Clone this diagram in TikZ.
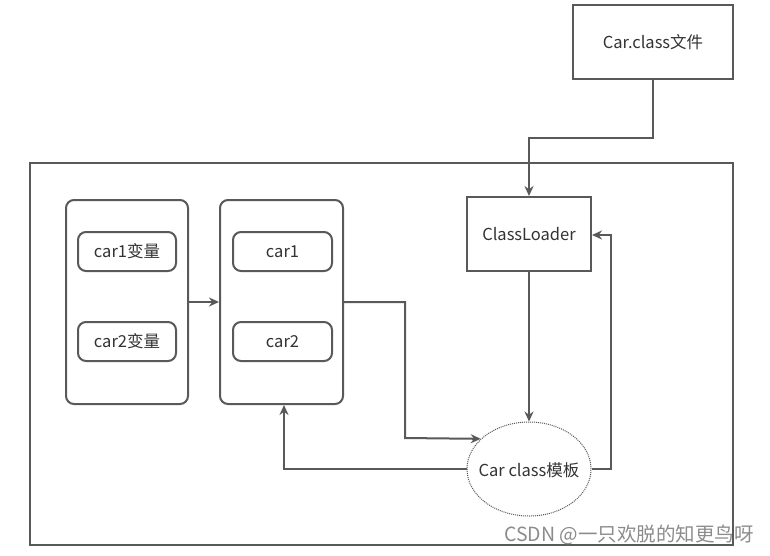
\documentclass[tikz,border=0pt]{standalone}
\usepackage{fontspec}
\setmainfont{Noto Sans CJK SC}
\usetikzlibrary{shapes.geometric,arrows.meta}
\definecolor{ln}{HTML}{595959}
\definecolor{tx}{HTML}{333333}
\tikzset{
  lbl/.style={font=\fontsize{16.5}{18}\selectfont,text=tx},
  box/.style={draw=ln,line width=2pt,fill=white,inner sep=0pt,lbl},
  rbox/.style={box,rounded corners=8pt},
  conn/.style={draw=ln,line width=2pt,-{Stealth[length=10pt,width=9pt]}},
}
\begin{document}
\begin{tikzpicture}[x=1pt,y=-1pt]
\useasboundingbox[fill=white] (0,0) rectangle (770,555);
% outer frame
\draw[ln,line width=2pt] (30,163) rectangle (733,545);
% Car.class file
\node[box,minimum width=160pt,minimum height=74pt] (file) at (653,42) {Car.class文件};
% left container
\node[rbox,minimum width=122pt,minimum height=204pt] (vars) at (127,302) {};
\node[rbox,minimum width=98pt,minimum height=39pt] (v1) at (127,251.5) {car1变量};
\node[rbox,minimum width=98pt,minimum height=39pt] (v2) at (127,341.5) {car2变量};
% middle container
\node[rbox,minimum width=123pt,minimum height=204pt] (objs) at (281.5,302) {};
\node[rbox,minimum width=99pt,minimum height=39pt] (o1) at (282.5,251.5) {car1};
\node[rbox,minimum width=99pt,minimum height=39pt] (o2) at (282.5,341.5) {car2};
% ClassLoader
\node[box,minimum width=124pt,minimum height=74pt] (cl) at (529,234) {ClassLoader};
% template ellipse
\node[ellipse,draw=ln,densely dotted,line width=1pt,fill=white,inner sep=0pt,
      minimum width=124pt,minimum height=94pt] (tpl) at (529,469) {};
\node[lbl,inner sep=0pt] (tplt) at (529,470) {Car class模板};
% connectors
\coordinate (f1) at (653,138);
\coordinate (f2) at (529,138);
\draw[conn] (file.south -| f1) -- (f1) -- (f2) -- (cl.north);
\draw[conn] (vars.east) -- (objs.west);
\coordinate (m1) at (405,302);
\coordinate (m2) at (405,438);
\draw[conn] (objs.east) -- (m1) -- (m2) -- (tpl.148);
\draw[conn] (cl.south) -- (tpl.north);
\coordinate (t1) at (284,469);
\draw[conn] (tpl.west) -- (t1) -- (objs.south -| t1);
\coordinate (r1) at (611,469);
\coordinate (r2) at (611,235);
\draw[conn] (tpl.east) -- (r1) -- (r2) -- (cl.east |- r2);
% watermark
\node[text=black!45,font=\fontsize{19.5}{21}\selectfont,inner sep=0pt] (wm) at (629,535) {CSDN @一只欢脱的知更鸟呀};
\end{tikzpicture}
\end{document}
